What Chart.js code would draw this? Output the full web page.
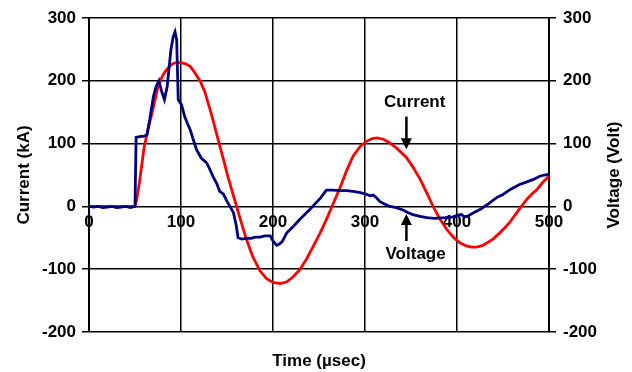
<!DOCTYPE html>
<html>
<head>
<meta charset="utf-8">
<script src="https://cdn.jsdelivr.net/npm/chart.js@4"></script>
<style>
  html, body { margin: 0; padding: 0; background: #fff; }
  #wrap { width: 632px; height: 372px; }
</style>
</head>
<body>
<div id="wrap"><canvas id="chart" width="632" height="372"></canvas></div>
<script>
// === dados ===
const currentTime = [0, 50, 52, 55, 60, 65, 70, 75, 80, 84, 88, 92, 96, 100, 105, 110, 115, 121, 126, 132, 137, 142, 147, 151, 156, 160, 165, 171, 178, 186, 193, 200, 208, 215, 222, 229, 236, 244, 251, 258, 265, 273, 280, 287, 295, 302, 308, 313, 320, 327, 335, 345, 352, 360, 367, 374, 381, 389, 396, 403, 410, 416, 421, 428, 435, 439, 446, 452, 457, 464, 470, 477, 483, 487, 493, 500];
const currentValue = [0, 0, 12, 40, 95, 128, 158, 191, 208, 217, 224, 228, 229, 229, 227, 223, 213, 199, 182, 152, 125, 97, 70, 47, 22, 2, -23, -52, -80, -103, -115, -121, -123, -120, -112, -101, -85, -63, -43, -21, 3, 30, 57, 80, 96, 104, 108, 109, 107, 101, 92, 78, 63, 43, 22, 0, -19, -37, -49, -58, -63, -65, -65, -62, -56, -52, -43, -34, -26, -12, 0, 13, 22, 27, 38, 48];

const voltageTime = [0, 5, 10, 15, 20, 25, 30, 35, 40, 45, 50, 51, 51.2, 55, 60, 63, 66, 70, 73, 76, 79, 82, 85, 89, 91.5, 93.5, 95.3, 97, 100.5, 104, 107, 110, 113, 117, 122, 128, 131, 135, 139, 142, 146, 150, 154, 157, 160, 162, 166, 171, 176, 181, 186, 191, 197, 200, 204, 207, 210, 215, 222, 229, 235, 240, 247, 252, 258, 265, 273, 280, 287, 295, 302, 306, 309, 313, 316, 321, 327, 334, 342, 347, 352, 360, 367, 375, 387, 395, 401, 405, 408, 411, 418, 425, 433, 443, 450, 458, 468, 476, 483, 490, 495, 500];
const voltageValue = [0, -1, 0, -2, -1, 0, -2, -1, 0, -2, 0, 0, 110, 111, 112, 114, 138, 175, 191, 200, 183, 170, 191, 249, 270, 278, 265, 170, 162, 143, 132, 122, 108, 90, 77, 69, 60, 47, 36, 24, 20, 8, -2, -10, -30, -50, -52, -51, -51, -49, -49, -47, -47, -55, -62, -60, -56, -42, -32, -21, -12, -5, 6, 14, 26, 26, 25, 25, 24, 22, 19, 17, 18, 13, 8, 4, 0, -2, -6, -10, -13, -16, -18, -19, -18, -17, -14, -13, -17, -16, -10, -5, 3, 14, 19, 27, 35, 39, 43, 48, 50, 51];

// anotações: [texto, t do texto, valor do texto (linha de base), t da seta, valor início, valor ponta]
const notes = [
    ["Current", 354, 158, 345, 143, 91],
    ["Voltage", 355, -84, 345, -55, -12]
];
const rightTitle = "Voltage (Volt)";

Chart.defaults.font.family = "'Liberation Sans', Arial, sans-serif";
Chart.defaults.font.size = 17;
Chart.defaults.font.weight = "bold";
Chart.defaults.color = "#000";

const toPoints = (xs, ys) => xs.map((x, i) => ({ x, y: ys[i] }));

// setas, textos e título do eixo direito (lido de baixo para cima)
const notesPlugin = {
    id: "notes",
    afterDatasetsDraw(chart) {
        const { ctx, scales, chartArea } = chart;
        ctx.save();
        ctx.fillStyle = "#000";
        ctx.strokeStyle = "#000";
        ctx.font = "bold 17px 'Liberation Sans', Arial, sans-serif";
        ctx.textAlign = "center";
        ctx.textBaseline = "alphabetic";
        notes.forEach(n => {
            ctx.fillText(n[0], scales.x.getPixelForValue(n[1]), scales.y.getPixelForValue(n[2]));
            const ax = scales.x.getPixelForValue(n[3]);
            const y0 = scales.y.getPixelForValue(n[4]);
            const y1 = scales.y.getPixelForValue(n[5]);
            const dir = y1 > y0 ? 1 : -1;
            ctx.lineWidth = 2.5;
            ctx.beginPath();
            ctx.moveTo(ax, y0);
            ctx.lineTo(ax, y1 - dir * 10);
            ctx.stroke();
            ctx.beginPath();
            ctx.moveTo(ax - 5.5, y1 - dir * 11);
            ctx.lineTo(ax + 5.5, y1 - dir * 11);
            ctx.lineTo(ax, y1);
            ctx.closePath();
            ctx.fill();
        });

        ctx.translate(scales.y2.right - 18, (chartArea.top + chartArea.bottom) / 2);
        ctx.rotate(-Math.PI / 2);
        ctx.textBaseline = "middle";
        ctx.fillText(rightTitle, 0, 0);
        ctx.restore();
    }
};

new Chart(document.getElementById("chart"), {
    type: "line",
    data: {
        datasets: [
            {
                label: "Voltage",
                data: toPoints(voltageTime, voltageValue),
                borderColor: "#000080",
                borderWidth: 2.8,
                pointRadius: 0,
                tension: 0,
                yAxisID: "y2"
            },
            {
                label: "Current",
                data: toPoints(currentTime, currentValue),
                borderColor: "#ff0000",
                borderWidth: 2.8,
                pointRadius: 0,
                tension: 0,
                yAxisID: "y"
            }
        ]
    },
    options: {
        responsive: false,
        animation: false,
        layout: { padding: { top: 18, left: 0, right: 0, bottom: 0 } },
        plugins: { legend: { display: false }, tooltip: { enabled: false } },
        scales: {
            x: {
                type: "linear",
                position: { y: 0 },
                min: 0,
                max: 500,
                ticks: { stepSize: 100, padding: 6, maxRotation: 0 },
                grid: { color: "#000", lineWidth: 1.5, drawTicks: false },
                border: { display: false }
            },
            x2: {
                type: "linear",
                position: "bottom",
                ticks: { display: false },
                grid: { display: false },
                border: { display: false },
                title: { display: true, text: "Time (µsec)", padding: 0 },
                afterFit(s) { s.height = 40; }
            },
            y: {
                position: "left",
                min: -200,
                max: 300,
                ticks: { stepSize: 100, padding: 6 },
                grid: { color: "#000", lineWidth: 1.5, tickLength: 7 },
                border: { color: "#000", width: 2 },
                title: { display: true, text: "Current (kA)", padding: { top: 14, bottom: 0 } },
                afterFit(s) { s.width = 89; }
            },
            y2: {
                position: "right",
                min: -200,
                max: 300,
                ticks: { stepSize: 100, padding: 7 },
                grid: { color: "#000", lineWidth: 1.5, tickLength: 7, drawOnChartArea: false },
                border: { color: "#000", width: 2 },
                afterFit(s) { s.width = 83; }
            }
        }
    },
    plugins: [notesPlugin]
});
</script>
</body>
</html>
